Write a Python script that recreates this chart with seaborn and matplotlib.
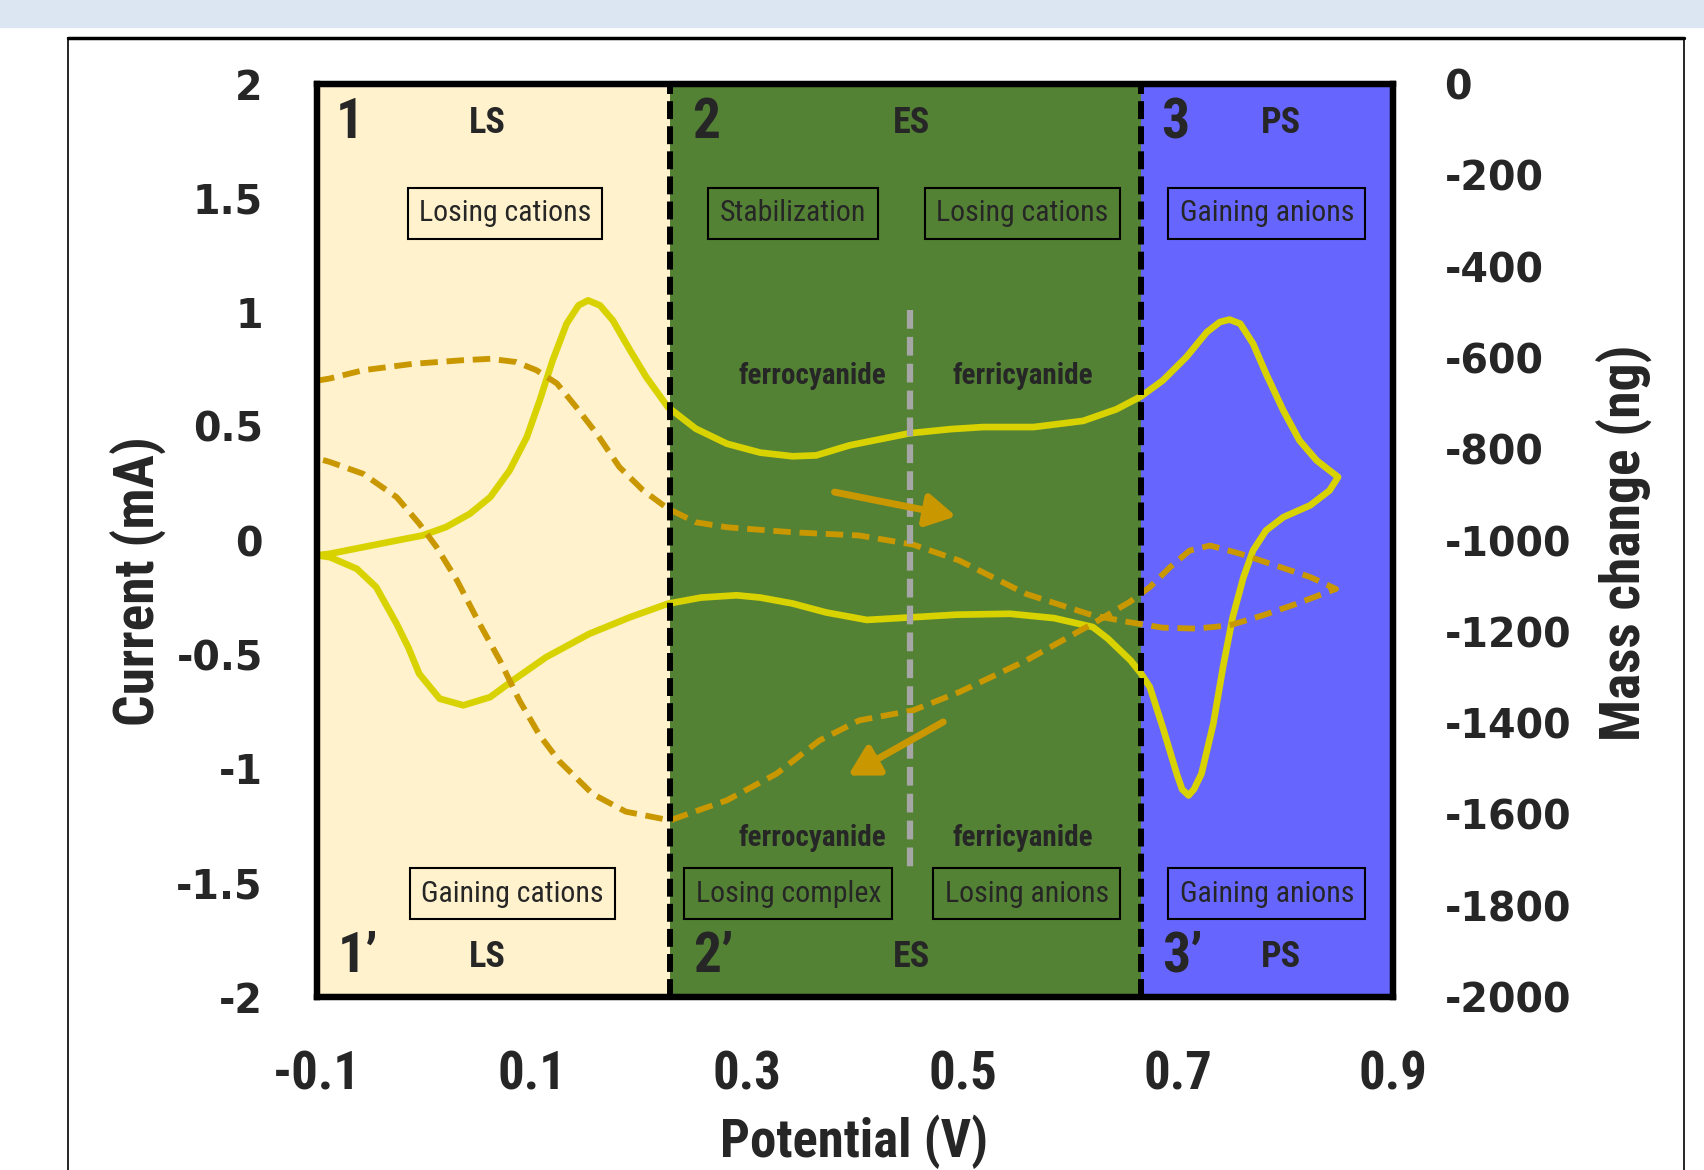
import numpy as np
import pandas as pd
import matplotlib
matplotlib.use('Agg')
import matplotlib.pyplot as plt
import seaborn as sns
from matplotlib import font_manager
from matplotlib.patches import Rectangle
from matplotlib.lines import Line2D

# cyclic voltammogram (V, mA), in scan order
cv_potential = [-0.100, -0.088, -0.057, -0.026, -0.002, 0.020, 0.042, 0.061, 0.079, 0.095,
                0.107, 0.119, 0.132, 0.143, 0.152, 0.163, 0.175, 0.191, 0.206, 0.226,
                0.252, 0.281, 0.312, 0.342, 0.364, 0.395, 0.451, 0.489, 0.519, 0.566,
                0.612, 0.643, 0.666, 0.686, 0.708, 0.727, 0.739, 0.748, 0.758, 0.770,
                0.782, 0.798, 0.813, 0.829, 0.841, 0.849,
                0.841, 0.823, 0.798, 0.782, 0.770, 0.761, 0.751, 0.742, 0.733, 0.722,
                0.715, 0.710, 0.704, 0.699, 0.686, 0.674, 0.666, 0.656, 0.635, 0.621,
                0.585, 0.544, 0.494, 0.451, 0.411, 0.373, 0.342, 0.312, 0.290, 0.257,
                0.226, 0.191, 0.153, 0.113, 0.082, 0.061, 0.036, 0.014, -0.005, -0.015,
                -0.026, -0.045, -0.063, -0.088, -0.100]
cv_current = [-0.065, -0.058, -0.029, 0.000, 0.022, 0.059, 0.117, 0.190, 0.307, 0.453,
              0.614, 0.789, 0.950, 1.030, 1.052, 1.030, 0.964, 0.833, 0.716, 0.585,
              0.490, 0.424, 0.385, 0.369, 0.373, 0.417, 0.470, 0.488, 0.497, 0.497,
              0.524, 0.575, 0.632, 0.701, 0.804, 0.913, 0.957, 0.968, 0.950, 0.862,
              0.731, 0.570, 0.439, 0.351, 0.307, 0.278,
              0.219, 0.154, 0.102, 0.044, -0.043, -0.161, -0.336, -0.555, -0.803, -1.022,
              -1.090, -1.117, -1.090, -1.022, -0.818, -0.642, -0.584, -0.525, -0.430, -0.379,
              -0.340, -0.321, -0.325, -0.337, -0.348, -0.315, -0.276, -0.250, -0.240, -0.250,
              -0.277, -0.336, -0.409, -0.511, -0.613, -0.686, -0.722, -0.693, -0.584, -0.470,
              -0.365, -0.204, -0.124, -0.073, -0.065]

# mass change (V, ng), in scan order
mass_potential = [-0.100, -0.088, -0.057, -0.011, 0.036, 0.061, 0.085, 0.104, 0.123, 0.141,
                  0.160, 0.181, 0.203, 0.226, 0.252, 0.281, 0.342, 0.404, 0.454, 0.497,
                  0.559, 0.621, 0.655, 0.686, 0.717, 0.748, 0.779, 0.810, 0.847,
                  0.823, 0.786, 0.758, 0.730, 0.711, 0.693, 0.674, 0.655, 0.621, 0.559,
                  0.497, 0.454, 0.404, 0.367, 0.327, 0.281, 0.228, 0.187, 0.156, 0.125,
                  0.107, 0.088, 0.070, 0.051, 0.030, 0.011, -0.005, -0.026, -0.057, -0.088,
                  -0.100]
mass_change = [-650, -645, -627, -613, -605, -602, -609, -627, -656, -708,
               -766, -839, -890, -930, -960, -971, -982, -989, -1009, -1044,
               -1117, -1164, -1179, -1191, -1193, -1186, -1164, -1139, -1106,
               -1080, -1051, -1029, -1011, -1022, -1058, -1102, -1135, -1182, -1263,
               -1332, -1372, -1394, -1438, -1511, -1569, -1613, -1594, -1555, -1483,
               -1427, -1350, -1263, -1182, -1087, -1014, -963, -905, -854, -828,
               -820]

regions = ['LS', 'ES', 'PS']
region_edges = [-0.1, 0.228, 0.666, 0.9]
region_colors = ['#FFF2CC', '#548235', '#6666FF']
top_numbers = ['1', '2', '3']
bottom_numbers = ['1\u2019', '2\u2019', '3\u2019']
top_boxes = ['Losing cations', 'Stabilization', 'Losing cations', 'Gaining anions']
bottom_boxes = ['Gaining cations', 'Losing complex', 'Losing anions', 'Gaining anions']
species = ['ferrocyanide', 'ferricyanide']
species_split = 0.4515

x_ticks = [-0.1, 0.1, 0.3, 0.5, 0.7, 0.9]
x_labels = ['-0.1', '0.1', '0.3', '0.5', '0.7', '0.9']
i_ticks = [2, 1.5, 1, 0.5, 0, -0.5, -1, -1.5, -2]
i_labels = ['2', '1.5', '1', '0.5', '0', '-0.5', '-1', '-1.5', '-2']
m_ticks = [0, -200, -400, -600, -800, -1000, -1200, -1400, -1600, -1800, -2000]
m_labels = [str(t) for t in m_ticks]

cv = pd.DataFrame({'Potential (V)': cv_potential, 'Current (mA)': cv_current})
mass = pd.DataFrame({'Potential (V)': mass_potential, 'Mass change (ng)': mass_change})

sns.set_theme(style='white')
names = {f.name for f in font_manager.fontManager.ttflist}
narrow = next((n for n in ['Liberation Sans Narrow', 'Roboto Condensed', 'Open Sans Condensed']
               if n in names), None)
k = 1.0 if narrow else 0.8
if narrow is None:
    narrow = 'DejaVu Sans'
plt.rcParams['font.family'] = ['DejaVu Sans']

YELLOW = '#D8D200'
GOLD = '#C99700'

fig = plt.figure(figsize=(17.04, 11.70), dpi=100)
fig.patches.append(Rectangle((0, 1 - 27 / 1170), 1, 27 / 1170, transform=fig.transFigure,
                             color='#DCE6F2', zorder=0))
fig.patches.append(Rectangle((68 / 1704, -0.05), (1684 - 68) / 1704, 1.05 - 38 / 1170,
                             transform=fig.transFigure, fill=False, ec='black', lw=1.2))
fig.lines.append(Line2D([68 / 1704, 1684 / 1704], [1 - 38 / 1170] * 2,
                        transform=fig.transFigure, color='black', lw=2.5))

ax = fig.add_axes([0.18603, 0.14786, 0.63146, 0.78034])
ax2 = ax.twinx()

for lo, hi, c in zip(region_edges[:-1], region_edges[1:], region_colors):
    ax.axvspan(lo, hi, color=c, lw=0, zorder=0)

sns.lineplot(data=cv, x='Potential (V)', y='Current (mA)', sort=False, estimator=None,
             ax=ax, color=YELLOW, zorder=3)
cv_line = ax.lines[-1]
cv_line.set_linewidth(4.8)
cv_line.set_solid_joinstyle('round')
cv_line.set_solid_capstyle('round')

sns.lineplot(data=mass, x='Potential (V)', y='Mass change (ng)', sort=False, estimator=None,
             ax=ax2, color=GOLD, zorder=3)
mass_line = ax2.lines[-1]
mass_line.set_linewidth(4.2)
mass_line.set_linestyle((0, (3.0, 1.5)))

ax.set_xlim(-0.1, 0.9)
ax.set_ylim(-2, 2)
ax2.set_ylim(-2000, 0)

# region separators and the ferro/ferri split
for xb in region_edges[1:-1]:
    ax2.axvline(xb, color='black', lw=4.3, linestyle=(0, (3, 1.2)), zorder=5)
ax2.plot([species_split, species_split], [1.01, -1.443], transform=ax.transData,
         color='#A6A6A6', lw=4.5, linestyle=(0, (3, 1.3)), zorder=5)

tr = ax.transData
num_x_top = [-0.0697, 0.2616, 0.698]
num_x_bot = [-0.0616, 0.2687, 0.704]
name_x = [0.0586, 0.4525, 0.796]
for t, b, nx, bx, r, rx in zip(top_numbers, bottom_numbers, num_x_top, num_x_bot, regions, name_x):
    ax2.text(nx, 1.829, t, transform=tr, ha='center', va='center', fontsize=40 * k,
             fontweight='bold', family=narrow, zorder=6)
    ax2.text(bx, -1.824, b, transform=tr, ha='center', va='center', fontsize=40 * k,
             fontweight='bold', family=narrow, zorder=6)
    ax2.text(rx, 1.829, r, transform=tr, ha='center', va='center', fontsize=26 * k,
             fontweight='bold', family=narrow, zorder=6)
    ax2.text(rx, -1.824, r, transform=tr, ha='center', va='center', fontsize=26 * k,
             fontweight='bold', family=narrow, zorder=6)

box_x_top = [0.0747, 0.3424, 0.5556, 0.7828]
box_x_bot = [0.0818, 0.338, 0.5596, 0.7828]
for s, bx in zip(top_boxes, box_x_top):
    ax2.text(bx, 1.433, s, transform=tr, ha='center', va='center', fontsize=21.5 * k,
             family=narrow, zorder=6,
             bbox=dict(boxstyle='square,pad=0.38', fc='none', ec='black', lw=1.5))
for s, bx in zip(bottom_boxes, box_x_bot):
    ax2.text(bx, -1.548, s, transform=tr, ha='center', va='center', fontsize=21.5 * k,
             family=narrow, zorder=6,
             bbox=dict(boxstyle='square,pad=0.38', fc='none', ec='black', lw=1.5))

for s, sx in zip(species, [0.3606, 0.5556]):
    for sy in [0.719, -1.305]:
        ax2.text(sx, sy, s, transform=tr, ha='center', va='center', fontsize=21 * k,
                 fontweight='bold', family=narrow, zorder=6)

# scan direction arrows
arrow_kw = dict(arrowstyle='-|>,head_length=0.8,head_width=0.45', color=GOLD, lw=5,
                shrinkA=0, shrinkB=0, mutation_scale=22)
ax2.annotate('', xy=(0.494, 0.106), xytext=(0.381, 0.212), xycoords=tr, textcoords=tr,
             arrowprops=arrow_kw, zorder=6)
ax2.annotate('', xy=(0.3935, -1.03), xytext=(0.482, -0.795), xycoords=tr, textcoords=tr,
             arrowprops=arrow_kw, zorder=6)

# axes, ticks and titles
ax.set_xticks(x_ticks, x_labels)
ax.set_yticks(i_ticks, i_labels)
ax2.set_yticks(m_ticks, m_labels)
ax.tick_params(axis='x', length=0, pad=38, labelsize=38 * k)
ax.tick_params(axis='y', length=0, pad=39, labelsize=28.5)
ax2.tick_params(axis='y', length=0, pad=37, labelsize=28.5)
for lab in ax.get_xticklabels():
    lab.set_fontfamily(narrow)
    lab.set_fontweight('bold')
for lab in ax.get_yticklabels() + ax2.get_yticklabels():
    lab.set_fontweight('bold')

ax.set_xlabel('Potential (V)', fontsize=38 * k, fontweight='bold', family=narrow)
ax.set_ylabel('Current (mA)', fontsize=40 * k, fontweight='bold', family=narrow)
ax2.set_ylabel('Mass change (ng)', fontsize=40 * k, fontweight='bold', family=narrow)
ax.xaxis.set_label_coords(0.499, -0.158)
ax.xaxis.label.set_va('center')
ax.yaxis.set_label_coords(-0.1654, 0.4556)
ax.yaxis.label.set_va('center')
ax2.yaxis.set_label_coords(1.2156, 0.497)
ax2.yaxis.label.set_va('center')

for a in (ax, ax2):
    a.grid(False)
    for sp in a.spines.values():
        sp.set_color('black')
        sp.set_linewidth(4.5)
        sp.set_zorder(7)

fig.savefig('out.png', dpi=100, facecolor='white')
